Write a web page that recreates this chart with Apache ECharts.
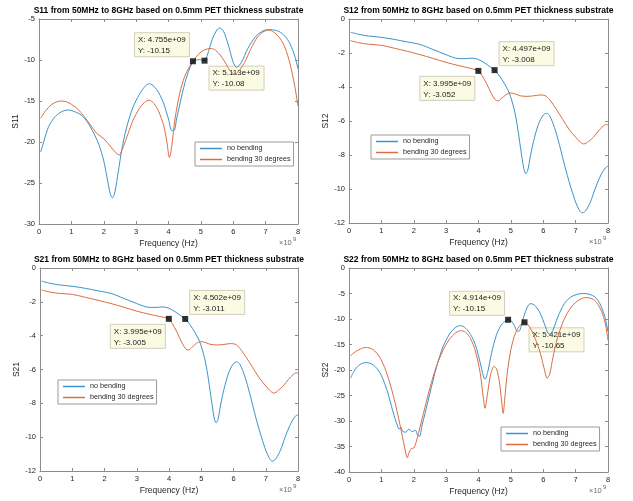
<!DOCTYPE html>
<html>
<head>
<meta charset="utf-8">
<title>S-parameters, no bending vs bending 30 degrees</title>
<script src="https://cdn.jsdelivr.net/npm/echarts@6/dist/echarts.min.js"></script>
<style>
  html, body { margin: 0; padding: 0; background: #ffffff; }
  #chart { width: 633px; height: 501px; }
</style>
</head>
<body>
<div id="chart"></div>
<script>
// ---- data (frequency in GHz, magnitude in dB) ----
const seriesNames = ['no bending', 'bending 30 degrees'];
const panelNames = ['S11', 'S12', 'S21', 'S22'];
const panelTitles = panelNames.map(n => n + ' from 50MHz to 8GHz based on 0.5mm PET thickness substrate');
const xTicksGHz = [0, 1, 2, 3, 4, 5, 6, 7, 8];
const yMins = [-30, -12, -12, -40];
const yMaxs = [-5, 0, 0, 0];
const ySteps = [5, 2, 2, 5];

const s11Flat = [[0.05,-21.2],[0.1,-20.6],[0.15,-19.9],[0.3,-18.1],[0.5,-16.9],[0.7,-16.3],[0.9,-16.1],[1.1,-16.3],[1.3,-16.7],[1.5,-17.6],[1.7,-19.0],[1.85,-20.3],[2.0,-22.3],[2.1,-24.3],[2.2,-26.3],[2.27,-26.8],[2.35,-26.0],[2.45,-23.6],[2.55,-21.1],[2.7,-18.3],[2.9,-15.8],[3.1,-14.2],[3.3,-13.1],[3.42,-12.9],[3.55,-13.2],[3.7,-14.0],[3.85,-15.3],[4.0,-17.2],[4.1,-18.6],[4.17,-18.6],[4.25,-17.2],[4.4,-14.5],[4.55,-12.2],[4.7,-10.6],[4.8,-10.1],[4.95,-9.95],[5.113,-10.08],[5.2,-9.4],[5.35,-7.5],[5.5,-6.3],[5.58,-6.1],[5.7,-6.5],[5.85,-8.2],[6.0,-10.3],[6.1,-10.9],[6.25,-10.3],[6.45,-8.6],[6.7,-7.1],[6.95,-6.4],[7.15,-6.3],[7.4,-6.5],[7.6,-7.1],[7.75,-8.0],[7.9,-9.5],[8.0,-11.1]];
const s11Bent = [[0.05,-17.1],[0.2,-16.2],[0.4,-15.4],[0.55,-15.1],[0.7,-15.0],[0.85,-15.1],[1.0,-15.4],[1.2,-16.0],[1.4,-16.9],[1.6,-18.0],[1.8,-19.0],[2.0,-19.6],[2.2,-20.5],[2.35,-21.2],[2.47,-21.6],[2.6,-20.6],[2.75,-19.0],[2.9,-17.4],[3.1,-15.9],[3.25,-15.2],[3.4,-14.9],[3.55,-15.3],[3.7,-16.3],[3.85,-18.0],[3.95,-20.0],[4.03,-21.9],[4.1,-20.5],[4.2,-17.2],[4.35,-14.0],[4.5,-12.0],[4.65,-10.8],[4.755,-10.15],[4.9,-9.4],[5.05,-8.9],[5.2,-8.65],[5.32,-8.6],[5.45,-8.8],[5.6,-9.4],[5.75,-10.3],[5.9,-11.3],[6.05,-11.7],[6.2,-11.2],[6.35,-10.3],[6.55,-8.6],[6.75,-7.2],[6.95,-6.5],[7.1,-6.35],[7.25,-6.6],[7.45,-7.4],[7.6,-8.5],[7.75,-10.4],[7.9,-13.2],[8.0,-15.6]];

const s12Flat = [[0.05,-0.78],[0.3,-0.9],[0.6,-1.0],[1.0,-1.08],[1.4,-1.2],[1.8,-1.35],[2.2,-1.5],[2.6,-1.8],[3.0,-2.1],[3.2,-2.25],[3.4,-2.33],[3.6,-2.33],[3.8,-2.3],[4.0,-2.38],[4.2,-2.6],[4.35,-2.8],[4.497,-3.008],[4.65,-3.35],[4.8,-3.8],[4.95,-4.35],[5.1,-5.3],[5.2,-6.3],[5.3,-7.6],[5.4,-8.8],[5.46,-9.1],[5.52,-8.9],[5.6,-8.1],[5.7,-7.2],[5.85,-6.2],[6.0,-5.65],[6.1,-5.55],[6.2,-5.7],[6.35,-6.4],[6.5,-7.4],[6.7,-8.9],[6.9,-10.2],[7.05,-11.0],[7.2,-11.4],[7.3,-11.3],[7.45,-10.8],[7.6,-10.0],[7.75,-9.3],[7.9,-8.8],[8.0,-8.65]];
const s12Bent = [[0.05,-1.27],[0.3,-1.4],[0.6,-1.48],[1.0,-1.55],[1.4,-1.72],[1.8,-1.9],[2.2,-2.1],[2.6,-2.32],[3.0,-2.55],[3.4,-2.75],[3.7,-2.88],[3.995,-3.052],[4.1,-3.3],[4.25,-3.8],[4.4,-4.4],[4.52,-4.75],[4.6,-4.82],[4.7,-4.7],[4.85,-4.45],[5.0,-4.35],[5.15,-4.42],[5.3,-4.52],[5.5,-4.55],[5.7,-4.52],[5.9,-4.47],[6.05,-4.5],[6.2,-4.75],[6.4,-5.3],[6.6,-5.9],[6.8,-6.5],[7.0,-6.95],[7.15,-7.25],[7.25,-7.35],[7.4,-7.2],[7.55,-6.95],[7.7,-6.6],[7.85,-6.3],[7.95,-6.2],[8.0,-6.25]];

const s21Flat = [[0.05,-0.78],[0.3,-0.9],[0.6,-1.0],[1.0,-1.08],[1.4,-1.2],[1.8,-1.35],[2.2,-1.5],[2.6,-1.8],[3.0,-2.1],[3.2,-2.25],[3.4,-2.33],[3.6,-2.33],[3.8,-2.3],[4.0,-2.38],[4.2,-2.6],[4.35,-2.8],[4.502,-3.011],[4.65,-3.35],[4.8,-3.8],[4.95,-4.35],[5.1,-5.3],[5.2,-6.3],[5.3,-7.6],[5.4,-8.85],[5.46,-9.15],[5.52,-8.95],[5.6,-8.1],[5.7,-7.2],[5.85,-6.2],[6.0,-5.65],[6.1,-5.55],[6.2,-5.7],[6.35,-6.4],[6.5,-7.4],[6.7,-8.9],[6.9,-10.2],[7.05,-11.0],[7.2,-11.42],[7.3,-11.3],[7.45,-10.8],[7.6,-10.0],[7.75,-9.3],[7.9,-8.8],[8.0,-8.68]];
const s21Bent = [[0.05,-1.3],[0.3,-1.42],[0.6,-1.5],[1.0,-1.56],[1.4,-1.73],[1.8,-1.91],[2.2,-2.1],[2.6,-2.32],[3.0,-2.55],[3.4,-2.74],[3.7,-2.86],[3.995,-3.005],[4.1,-3.28],[4.25,-3.8],[4.4,-4.42],[4.52,-4.78],[4.6,-4.85],[4.7,-4.72],[4.85,-4.45],[5.0,-4.35],[5.15,-4.42],[5.3,-4.52],[5.5,-4.55],[5.7,-4.52],[5.9,-4.47],[6.05,-4.5],[6.2,-4.75],[6.4,-5.3],[6.6,-5.9],[6.8,-6.5],[7.0,-6.97],[7.15,-7.28],[7.25,-7.4],[7.4,-7.22],[7.55,-6.95],[7.7,-6.6],[7.85,-6.3],[7.95,-6.2],[8.0,-6.24]];

const s22Flat = [[0.05,-21.6],[0.15,-20.3],[0.3,-19.1],[0.5,-18.55],[0.7,-18.8],[0.9,-20.0],[1.05,-21.8],[1.2,-24.5],[1.35,-28.0],[1.5,-31.0],[1.55,-31.6],[1.6,-31.2],[1.65,-32.0],[1.75,-32.2],[1.85,-31.6],[1.95,-32.1],[2.05,-31.8],[2.12,-32.8],[2.18,-33.0],[2.25,-31.0],[2.35,-28.5],[2.5,-24.5],[2.7,-19.5],[2.9,-15.5],[3.1,-13.0],[3.3,-11.6],[3.45,-11.3],[3.6,-11.8],[3.75,-13.0],[3.9,-15.0],[4.05,-18.5],[4.15,-21.2],[4.2,-21.8],[4.28,-20.5],[4.4,-16.8],[4.55,-13.2],[4.7,-11.2],[4.85,-10.3],[4.914,-10.15],[5.0,-10.3],[5.1,-11.2],[5.2,-12.4],[5.27,-12.3],[5.35,-10.6],[5.45,-8.5],[5.55,-7.2],[5.62,-7.0],[5.75,-7.4],[5.9,-8.8],[6.05,-11.2],[6.15,-12.8],[6.22,-13.0],[6.3,-12.2],[6.45,-9.6],[6.65,-7.0],[6.85,-5.7],[7.05,-5.15],[7.25,-5.0],[7.45,-5.2],[7.6,-5.7],[7.75,-7.0],[7.9,-9.5],[8.0,-12.5]];
const s22Bent = [[0.05,-17.2],[0.2,-16.4],[0.35,-15.9],[0.5,-15.6],[0.65,-15.7],[0.8,-16.3],[0.95,-17.5],[1.1,-19.5],[1.25,-22.3],[1.4,-25.8],[1.55,-30.0],[1.68,-34.0],[1.76,-36.5],[1.8,-37.2],[1.85,-36.3],[1.92,-35.4],[2.0,-35.3],[2.07,-34.2],[2.15,-32.3],[2.3,-28.5],[2.5,-23.5],[2.7,-19.3],[2.9,-16.2],[3.1,-14.0],[3.3,-12.7],[3.45,-12.3],[3.6,-12.6],[3.75,-13.8],[3.9,-16.2],[4.05,-20.5],[4.15,-25.5],[4.2,-27.5],[4.27,-25.0],[4.37,-21.0],[4.48,-19.3],[4.56,-19.8],[4.65,-22.5],[4.72,-26.5],[4.76,-28.5],[4.82,-25.0],[4.9,-20.0],[5.0,-16.0],[5.1,-13.5],[5.2,-12.0],[5.32,-11.0],[5.421,-10.65],[5.5,-10.9],[5.6,-11.8],[5.75,-13.8],[5.9,-16.5],[6.02,-19.5],[6.12,-21.6],[6.2,-20.8],[6.3,-17.5],[6.45,-13.5],[6.65,-10.0],[6.85,-7.8],[7.05,-6.5],[7.3,-5.8],[7.5,-6.0],[7.65,-6.8],[7.8,-8.5],[7.92,-11.0],[8.0,-14.2]];

// data cursors: [frequency GHz, value dB]
const s11Tips = [[4.755, -10.15], [5.113, -10.08]];
const s12Tips = [[4.497, -3.008], [3.995, -3.052]];
const s21Tips = [[4.502, -3.011], [3.995, -3.005]];
const s22Tips = [[4.914, -10.15], [5.421, -10.65]];

// ---- layout & style ----
const curves = [[s11Flat, s11Bent], [s12Flat, s12Bent], [s21Flat, s21Bent], [s22Flat, s22Bent]];
const tips = [s11Tips, s12Tips, s21Tips, s22Tips];
const tipSides = [['ul', 'dr'], ['ur', 'dl'], ['ur', 'dl'], ['ul', 'dr']];
const grids = [
  { left: 39, top: 19, width: 259, height: 205 },
  { left: 349, top: 19, width: 259, height: 204 },
  { left: 40, top: 268, width: 258, height: 203 },
  { left: 349, top: 268, width: 259, height: 204 }
];
const legendPos = [[195, 142], [371, 135], [58, 380], [501, 427]];
const lineColors = ['#3a93c9', '#da6d43'];
const FONT = 'Liberation Sans, Arial, Helvetica, sans-serif';
const AXIS_GREY = '#8c8c8c';
const TEXT_DARK = '#262626';
const HZ = 1e9;

const chart = echarts.init(document.getElementById('chart'), null, { renderer: 'canvas' });

const boxAxis = (i, pos, isX) => {
  const base = {
    gridIndex: i,
    type: 'value',
    position: pos,
    axisLine: { show: true, onZero: false, lineStyle: { color: AXIS_GREY, width: 1 } },
    axisTick: { show: true, inside: true, length: 3, lineStyle: { color: AXIS_GREY } },
    splitLine: { show: false },
    axisLabel: { show: false },
    silent: true
  };
  if (isX) Object.assign(base, { min: xTicksGHz[0] * HZ, max: xTicksGHz[xTicksGHz.length - 1] * HZ, interval: HZ });
  else Object.assign(base, { min: yMins[i], max: yMaxs[i], interval: ySteps[i] });
  return base;
};

const xAxes = [], yAxes = [], series = [], titles = [], legends = [];
for (let i = 0; i < 4; i++) {
  const xb = boxAxis(i, 'bottom', true);
  xb.axisLabel = { show: true, margin: 4, fontSize: 7.5, color: TEXT_DARK, fontFamily: FONT, formatter: v => String(Math.round(v / HZ)) };
  xb.name = 'Frequency (Hz)';
  xb.nameLocation = 'middle';
  xb.nameGap = 15;
  xb.nameTextStyle = { fontSize: 8.5, color: TEXT_DARK, fontFamily: FONT };
  xAxes[i] = xb;
  xAxes[4 + i] = boxAxis(i, 'top', true);

  const yl = boxAxis(i, 'left', false);
  yl.axisLabel = { show: true, margin: 4, fontSize: 7.5, color: TEXT_DARK, fontFamily: FONT };
  yl.name = panelNames[i];
  yl.nameLocation = 'middle';
  yl.nameGap = 17;
  yl.nameTextStyle = { fontSize: 8.5, color: TEXT_DARK, fontFamily: FONT };
  yAxes[i] = yl;
  yAxes[4 + i] = boxAxis(i, 'right', false);

  curves[i].forEach((pts, k) => {
    series.push({
      name: seriesNames[k],
      type: 'line',
      xAxisIndex: i,
      yAxisIndex: i,
      data: pts.map(([f, v]) => [f * HZ, v]),
      showSymbol: false,
      smooth: 0.3,
      color: lineColors[k],
      itemStyle: { color: lineColors[k] },
      lineStyle: { width: 1, color: lineColors[k] },
      silent: true,
      z: 2
    });
  });
  series.push({
    name: 'cursor',
    type: 'scatter',
    xAxisIndex: i,
    yAxisIndex: i,
    data: tips[i].map(([f, v]) => [f * HZ, v]),
    symbol: 'rect',
    symbolSize: 6,
    itemStyle: { color: '#000000' },
    silent: true,
    z: 6
  });

  const g = grids[i];
  titles.push({
    text: panelTitles[i],
    left: g.left + g.width / 2,
    top: g.top - 13,
    textAlign: 'center',
    padding: 0,
    textStyle: { fontSize: 8.5, fontWeight: 'bold', color: '#000000', fontFamily: FONT }
  });
  legends.push({
    data: seriesNames,
    left: legendPos[i][0],
    top: legendPos[i][1],
    orient: 'vertical',
    icon: 'rect',
    itemWidth: 22,
    itemHeight: 1.5,
    itemGap: 2,
    padding: [2, 3, 2, 5],
    backgroundColor: '#ffffff',
    borderColor: '#9a9a9a',
    borderWidth: 1,
    selectedMode: false,
    textStyle: { fontSize: 7.2, color: TEXT_DARK, fontFamily: FONT, lineHeight: 9 }
  });
}

chart.setOption({
  animation: false,
  backgroundColor: '#ffffff',
  title: titles,
  legend: legends,
  grid: grids,
  xAxis: xAxes,
  yAxis: yAxes,
  series: series
});

// ---- data-cursor boxes and exponent labels ----
const expText = x => {
  const s = x.toExponential(3);
  return s.replace(/e([+-])(\d)$/, 'e$10$2');
};
const TIP_W = 55, TIP_H = 24;
const graphics = [];
for (let i = 0; i < 4; i++) {
  tips[i].forEach(([f, v], k) => {
    const p = chart.convertToPixel({ xAxisIndex: i, yAxisIndex: i }, [f * HZ, v]);
    const side = tipSides[i][k];
    const bx = side[1] === 'l' ? p[0] - 4 - TIP_W : p[0] + 4;
    const by = side[0] === 'u' ? p[1] - 5 - TIP_H : p[1] + 5;
    const xStr = expText(Math.round(f * 1000) * 1e6);
    const yStr = String(Number(v.toPrecision(4)));
    graphics.push({
      type: 'group',
      z: 10,
      children: [
        { type: 'rect', shape: { x: bx + 0.5, y: by + 0.5, width: TIP_W, height: TIP_H },
          style: { fill: '#fbfbe4', stroke: '#cfcfbd', lineWidth: 1 } },
        { type: 'text', x: bx + 4, y: by + 2,
          style: { text: 'X: ' + xStr + '\nY: ' + yStr, fontSize: 8, lineHeight: 11, fill: '#1a1a1a', fontFamily: FONT } }
      ]
    });
  });
  const g = grids[i];
  graphics.push({ type: 'text', x: g.left + g.width - 19, y: g.top + g.height + 15,
    style: { text: '×10', fontSize: 7.5, fill: '#6a6a6a', fontFamily: FONT } });
  graphics.push({ type: 'text', x: g.left + g.width - 5, y: g.top + g.height + 12,
    style: { text: '9', fontSize: 6, fill: '#6a6a6a', fontFamily: FONT } });
}
chart.setOption({ graphic: graphics });
</script>
</body>
</html>
